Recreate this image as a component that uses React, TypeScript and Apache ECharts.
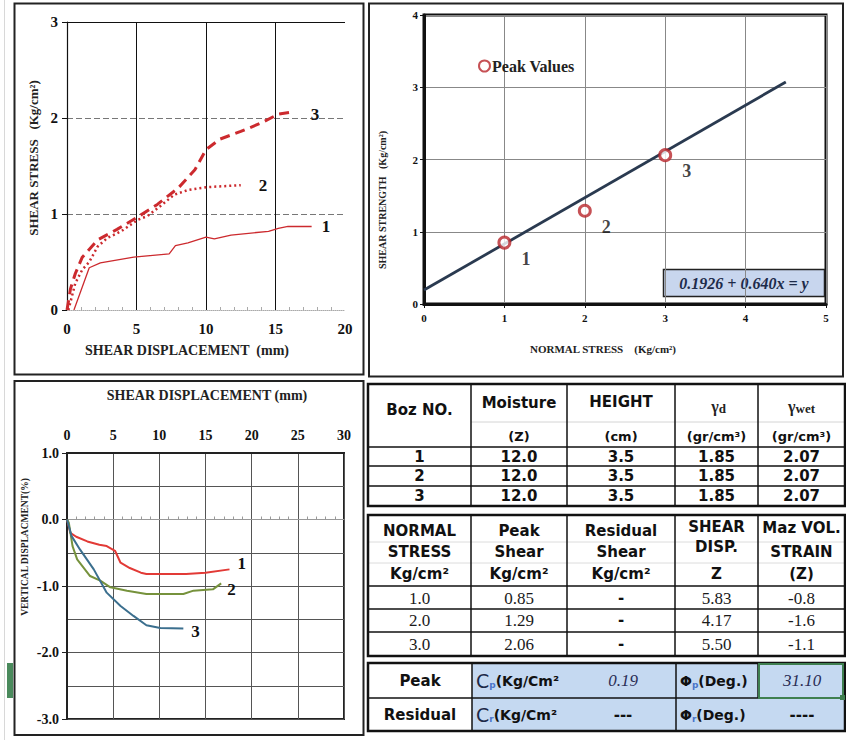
import React, { useEffect, useRef } from 'react';
import * as echarts from 'echarts';

// ---- Shear stress vs. shear displacement (mm, Kg/cm²) ----
const SD1_X = [0.5, 1.6, 2.4, 4.8, 7.35, 7.8, 8.7, 10.0, 10.6, 11.8, 14.5, 15.2, 15.9, 17.6];
const SD1_Y = [0.0, 0.44, 0.49, 0.55, 0.585, 0.67, 0.70, 0.76, 0.74, 0.78, 0.82, 0.85, 0.87, 0.87];
const SD2_X = [0.1, 0.6, 1.1, 1.6, 2.2, 2.9, 3.9, 5.1, 5.8, 6.7, 7.7, 8.7, 10.1, 12.5];
const SD2_Y = [0.0, 0.28, 0.42, 0.5, 0.66, 0.75, 0.82, 0.94, 0.98, 1.08, 1.2, 1.25, 1.28, 1.30];
const SD3_X = [0.0, 0.25, 0.6, 1.1, 2.2, 3.6, 5.1, 6.5, 8.0, 9.2, 10.0, 11.0, 12.5, 14.0, 15.2, 16.1];
const SD3_Y = [0.0, 0.22, 0.38, 0.55, 0.73, 0.84, 0.97, 1.1, 1.27, 1.46, 1.67, 1.78, 1.86, 1.95, 2.04, 2.06];

// ---- Vertical displacement (%) vs. shear displacement (mm) ----
const VD1_X = [0, 0.36, 1.0, 2.2, 3.5, 4.3, 5.2, 5.8, 6.8, 8.0, 8.6, 10.0, 12.9, 15.0, 17.6];
const VD1_Y = [0, -0.2, -0.26, -0.33, -0.38, -0.4, -0.47, -0.65, -0.73, -0.8, -0.82, -0.82, -0.82, -0.8, -0.75];
const VD2_X = [0, 0.2, 0.6, 1.1, 2.5, 3.6, 4.7, 6.5, 8.6, 10.0, 12.6, 13.7, 15.8, 16.7];
const VD2_Y = [0, -0.05, -0.4, -0.6, -0.85, -0.92, -1.02, -1.07, -1.12, -1.12, -1.12, -1.07, -1.05, -0.96];
const VD3_X = [0, 0.5, 1.4, 2.9, 4.3, 5.8, 7.2, 8.6, 10.1, 12.6];
const VD3_Y = [0, -0.25, -0.45, -0.75, -1.1, -1.3, -1.45, -1.59, -1.63, -1.64];

// ---- Specimen table ----
const BOX_NO = ['1', '2', '3'];
const MOISTURE = [12.0, 12.0, 12.0];
const HEIGHT = [3.5, 3.5, 3.5];
const GAMMA_D = [1.85, 1.85, 1.85];
const GAMMA_WET = [2.07, 2.07, 2.07];

// ---- Test results table ----
const NORMAL_STRESS = [1.0, 2.0, 3.0];
const PEAK_SHEAR = [0.85, 1.29, 2.06];
const RESIDUAL_SHEAR = ['-', '-', '-'];
const SHEAR_DISP_PCT = [5.83, 4.17, 5.5];
const MAX_VOL_STRAIN = [-0.8, -1.6, -1.1];

// ---- Strength parameters / failure envelope ----
const PEAK_C = 0.19;
const PEAK_PHI = 31.1;
const FIT_INTERCEPT = 0.1926;
const FIT_SLOPE = 0.64;
const FIT_X = [0, 4.5];

const SERIF = '"Liberation Serif", "Times New Roman", serif';
const SANS = '"DejaVu Sans", "Liberation Sans", sans-serif';
const INK = '#111';

const zip = (xs: number[], ys: number[]) => xs.map((x, i) => [x, ys[i]]);

const rect = (x: number, y: number, w: number, h: number, fill: string, stroke = 'none', lw = 0) => ({
  type: 'rect', silent: true, shape: { x, y, width: w, height: h },
  style: { fill, stroke, lineWidth: lw },
});
const line = (x1: number, y1: number, x2: number, y2: number, lw = 1.5, stroke = INK) => ({
  type: 'line', silent: true, shape: { x1, y1, x2, y2 }, style: { stroke, lineWidth: lw },
});
const text = (t: string, x: number, y: number, font: string, fill = INK, align = 'center', rotation = 0) => ({
  type: 'text', silent: true, x, y, rotation,
  style: { text: t, font, fill, align, verticalAlign: 'middle' },
});
const rich = (t: string, x: number, y: number, styles: any, align = 'center') => ({
  type: 'text', silent: true, x, y,
  style: { text: t, rich: styles, align, verticalAlign: 'middle', fill: INK },
});

function tableGraphics() {
  const els: any[] = [];
  const COLS = [368, 471, 567, 675, 758, 845];
  const mid = (i: number) => (COLS[i] + COLS[i + 1]) / 2;
  const hdr = `bold 15px ${SANS}`;
  const unit = `bold 13px ${SANS}`;
  const num = `17px ${SERIF}`;

  // Specimen table
  const t1Top = 384, t1Bot = 506;
  const t1Rows = [447, 466, 486];
  els.push(line(COLS[1], 422, COLS[5], 422, 1, '#d4d4d4'));
  t1Rows.forEach((y) => els.push(line(COLS[0], y, COLS[5], y, 1.5)));
  for (let i = 1; i < 5; i++) els.push(line(COLS[i], t1Top, COLS[i], t1Bot, 1.5));
  els.push(rect(COLS[0], t1Top, COLS[5] - COLS[0], t1Bot - t1Top, 'none', INK, 2.5));
  els.push(text('Boz NO.', mid(0), 410, hdr));
  els.push(text('Moisture', mid(1), 403, hdr));
  els.push(text('(Z)', mid(1), 436, unit));
  els.push(text('HEIGHT', mid(2), 402, hdr));
  els.push(text('(cm)', mid(2), 436, unit));
  const gStyles = {
    g: { font: `bold 16px ${SERIF}`, fill: '#222' },
    s: { font: `bold 13px ${SERIF}`, fill: '#222', padding: [4, 0, 0, 0] },
  };
  els.push(rich('{g|γ}{s|d}', mid(3) + 2, 406, gStyles));
  els.push(rich('{g|γ}{s|wet}', mid(4), 406, gStyles));
  els.push(text('(gr/cm³)', mid(3), 436, unit));
  els.push(text('(gr/cm³)', mid(4), 436, unit));
  const t1Centers = [457, 476, 496];
  BOX_NO.forEach((b, r) => {
    const y = t1Centers[r];
    els.push(text(b, mid(0), y, hdr));
    els.push(text(MOISTURE[r].toFixed(1), mid(1), y, hdr));
    els.push(text(HEIGHT[r].toFixed(1), mid(2), y, hdr));
    els.push(text(GAMMA_D[r].toFixed(2), mid(3), y, hdr));
    els.push(text(GAMMA_WET[r].toFixed(2), mid(4), y, hdr));
  });

  // Test results table
  const t2Top = 515, t2Bot = 656;
  els.push(line(COLS[0], 542, COLS[5], 542, 1, '#dcdcdc'));
  els.push(line(COLS[0], 563, COLS[5], 563, 1, '#dcdcdc'));
  [586, 609, 632].forEach((y) => els.push(line(COLS[0], y, COLS[5], y, 1.5)));
  for (let i = 1; i < 5; i++) els.push(line(COLS[i], t2Top, COLS[i], t2Bot, 1.5));
  els.push(rect(COLS[0], t2Top, COLS[5] - COLS[0], t2Bot - t2Top, 'none', INK, 2.5));
  const heads = [
    ['NORMAL', 'STRESS', 'Kg/cm²'],
    ['Peak', 'Shear', 'Kg/cm²'],
    ['Residual', 'Shear', 'Kg/cm²'],
    ['SHEAR', 'DISP.', 'Z'],
    ['Maz VOL.', 'STRAIN', '(Z)'],
  ];
  const headY = [[531, 552, 574], [531, 552, 574], [531, 552, 574], [527, 547, 574], [528, 552, 574]];
  heads.forEach((h, c) => h.forEach((s, k) => els.push(text(s, mid(c), headY[c][k], hdr))));
  const t2Centers = [598, 620, 644];
  NORMAL_STRESS.forEach((ns, r) => {
    const y = t2Centers[r];
    els.push(text(ns.toFixed(1), mid(0), y, num, '#1a1a1a'));
    els.push(text(PEAK_SHEAR[r].toFixed(2), mid(1), y, num, '#1a1a1a'));
    els.push(text(RESIDUAL_SHEAR[r], mid(2), y, hdr));
    els.push(text(SHEAR_DISP_PCT[r].toFixed(2), mid(3), y, num, '#1a1a1a'));
    els.push(text(MAX_VOL_STRAIN[r].toFixed(1), mid(4), y, num, '#1a1a1a'));
  });

  // Strength parameters
  const t3Top = 663, t3Mid = 698, t3Bot = 731;
  els.push(rect(472, t3Top, COLS[5] - 472, t3Bot - t3Top, '#c5d9f1'));
  els.push(line(COLS[0], t3Mid, COLS[5], t3Mid, 1.5));
  els.push(line(472, t3Top, 472, t3Bot, 1.5));
  els.push(line(676, t3Top, 676, t3Bot, 1.5));
  els.push(line(758, t3Top, 758, t3Mid, 1.5));
  els.push(rect(COLS[0], t3Top, COLS[5] - COLS[0], t3Bot - t3Top, 'none', INK, 2.5));
  els.push(rect(759, t3Top + 1, 84, t3Mid - t3Top - 1, 'none', '#3f7f50', 2));
  els.push(rect(840, t3Mid - 3, 5, 5, '#3f7f50'));
  els.push(text('Peak', 420, 681, hdr));
  els.push(text('Residual', 420, 715, hdr));
  const pStyles = {
    c: { font: `19px ${SANS}`, fill: '#1e2a48' },
    s: { font: `bold 9px ${SANS}`, fill: '#4a74c9', padding: [7, 0, 0, 0] },
    t: { font: `bold 14px ${SANS}`, fill: INK },
  };
  els.push(rich('{c|C}{s|p}{t|(Kg/Cm²}', 476, 681, pStyles, 'left'));
  els.push(rich('{c|C}{s|r}{t|(Kg/Cm²}', 476, 715, pStyles, 'left'));
  els.push(rich('{t|Φ}{s|p}{t|(Deg.)}', 680, 681, pStyles, 'left'));
  els.push(rich('{t|Φ}{s|r}{t|(Deg.)}', 680, 715, pStyles, 'left'));
  els.push(text(PEAK_C.toFixed(2), 623, 680, `italic 17px ${SERIF}`, '#2a2d55'));
  els.push(text(PEAK_PHI.toFixed(2), 802, 680, `italic 17px ${SERIF}`, '#2a2d55'));
  els.push(text('---', 623, 715, hdr));
  els.push(text('----', 802, 715, hdr));
  return els;
}

function frameGraphics() {
  const els: any[] = [];
  // worksheet edge and selected row marker
  els.push(line(4.5, 0, 4.5, 740, 1, '#d8d8d8'));
  els.push(rect(7, 663, 6, 35, '#4a8a5c'));
  // panel borders
  els.push(rect(14.5, 3.5, 349, 371, 'none', '#222', 2));
  els.push(rect(369, 3.5, 474, 373, 'none', '#222', 2));
  els.push(rect(14.5, 381, 349, 354, 'none', '#222', 2));
  // axis titles
  els.push(text('SHEAR STRESS   (Kg/cm²)', 33, 158, `bold 13px ${SERIF}`, '#222', 'center', Math.PI / 2));
  els.push(text('SHEAR DISPLACEMENT  (mm)', 187, 350, `bold 14px ${SERIF}`, '#222'));
  els.push(text('SHEAR STRENGTH   (Kg/cm²)', 382, 200, `bold 10px ${SERIF}`, '#222', 'center', Math.PI / 2));
  els.push(text('NORMAL STRESS    (Kg/cm²)', 603, 349, `bold 11px ${SERIF}`, '#222'));
  els.push(text('SHEAR DISPLACEMENT (mm)', 207, 395, `bold 14px ${SERIF}`, '#222'));
  els.push(text('VERTICAL DISPLACMENT(%)', 25, 547, `bold 9.5px ${SERIF}`, '#222', 'center', Math.PI / 2));
  // fitted envelope equation
  els.push(rect(663.5, 269.5, 161, 27, '#c8d6ee', '#222', 1.5));
  els.push(text(`${FIT_INTERCEPT} + ${FIT_SLOPE.toFixed(3)}x = y`, 744, 283, `italic bold 16px ${SERIF}`, '#1d2b4a'));
  return els;
}

const tickFont = (size: number) => ({ fontFamily: SERIF, fontWeight: 'bold' as const, fontSize: size, color: '#111' });

const endLabel = (t: string, offset: number[]) => ({
  show: true, formatter: t, offset, color: INK, fontFamily: SERIF, fontWeight: 'bold', fontSize: 17,
});

export default function App() {
  const ref = useRef<HTMLDivElement>(null);
  useEffect(() => {
    if (!ref.current) return;
    const chart = echarts.init(ref.current, null, { renderer: 'svg' });
    const fitData = FIT_X.map((x) => [x, FIT_INTERCEPT + FIT_SLOPE * x]);
    chart.setOption({
      animation: false,
      backgroundColor: '#fff',
      legend: {
        data: ['Peak Values'], left: 473, top: 53, itemWidth: 11, itemHeight: 11, itemGap: 4,
        textStyle: { fontFamily: SERIF, fontWeight: 'bold', fontSize: 16, color: '#222', padding: [0, 0, 0, -3] },
      },
      grid: [
        { left: 67, top: 22, width: 278, height: 288 },
        { left: 424, top: 15, width: 402, height: 289, show: true, borderColor: '#111', borderWidth: 3 },
        { left: 67, top: 453, width: 277, height: 266, show: true, borderColor: '#222', borderWidth: 2 },
      ],
      xAxis: [
        {
          gridIndex: 0, type: 'value', min: 0, max: 20, interval: 5,
          axisLine: { onZero: false, lineStyle: { color: '#aaa', type: 'dotted' } },
          axisTick: { show: false, inside: true },
          minorTick: { show: true, splitNumber: 5, length: 3, lineStyle: { color: '#aaa' } },
          axisLabel: { ...tickFont(15), margin: 11 },
          splitLine: { show: true, showMinLine: false, showMaxLine: false, lineStyle: { color: '#111', width: 1 } },
        },
        {
          gridIndex: 1, type: 'value', min: 0, max: 5, interval: 1,
          axisLine: { lineStyle: { color: '#111', width: 3 } },
          axisTick: { length: 4, lineStyle: { color: '#111' } },
          axisLabel: { ...tickFont(11), margin: 8 },
          splitLine: { show: true, lineStyle: { color: '#888', width: 1 } },
        },
        {
          gridIndex: 2, type: 'value', position: 'top', min: 0, max: 30, interval: 5,
          axisLine: { onZero: false, lineStyle: { color: '#222', width: 2 } },
          axisTick: { show: false },
          axisLabel: { ...tickFont(14), margin: 11 },
          splitLine: { show: true, lineStyle: { color: '#555', width: 1 } },
        },
        {
          gridIndex: 2, type: 'value', position: 'bottom', min: 0, max: 30, interval: 5,
          axisLine: { onZero: true, lineStyle: { color: '#999', width: 1 } },
          axisTick: { show: false, inside: true },
          minorTick: { show: true, splitNumber: 5, length: 3, lineStyle: { color: '#999' } },
          axisLabel: { show: false },
          splitLine: { show: false },
        },
      ],
      yAxis: [
        {
          gridIndex: 0, type: 'value', min: 0, max: 3, interval: 1,
          axisLine: { show: true, lineStyle: { color: '#111', width: 1.2 } },
          axisTick: { show: true, length: 5, lineStyle: { color: '#111' } },
          axisLabel: { ...tickFont(15), margin: 9 },
          splitLine: { show: true, showMinLine: false, showMaxLine: false, lineStyle: { color: '#777', type: [6, 3] } },
        },
        {
          gridIndex: 1, type: 'value', min: 0, max: 4, interval: 1,
          axisLine: { show: true, lineStyle: { color: '#111', width: 3 } },
          axisTick: { show: true, length: 4, lineStyle: { color: '#111' } },
          axisLabel: { ...tickFont(11), margin: 6 },
          splitLine: { show: true, lineStyle: { color: '#888', width: 1 } },
        },
        {
          gridIndex: 2, type: 'value', min: -3, max: 1, interval: 1,
          axisLine: { show: true, lineStyle: { color: '#222', width: 2 } },
          axisTick: { show: true, length: 5, lineStyle: { color: '#222' } },
          minorTick: { show: false, splitNumber: 2 },
          axisLabel: { ...tickFont(14), margin: 8, formatter: (v: number) => v.toFixed(1) },
          splitLine: { show: true, lineStyle: { color: '#555', width: 1 } },
          minorSplitLine: { show: true, lineStyle: { color: '#555', width: 1 } },
        },
      ],
      series: [
        {
          name: 'Box 1', type: 'line', xAxisIndex: 0, yAxisIndex: 0, data: zip(SD1_X, SD1_Y),
          symbol: 'none', lineStyle: { color: '#cc2a2e', width: 1.3 },
          endLabel: endLabel('1', [2, 0]),
          markLine: {
            silent: true, symbol: 'none', label: { show: false },
            lineStyle: { color: '#111', type: 'solid', width: 1.2 }, data: [{ yAxis: 3 }],
          },
        },
        {
          name: 'Box 2', type: 'line', xAxisIndex: 0, yAxisIndex: 0, data: zip(SD2_X, SD2_Y),
          symbol: 'none', lineStyle: { color: '#cc2a2e', width: 2.5, type: [2, 3] },
          endLabel: endLabel('2', [10, 0]),
        },
        {
          name: 'Box 3', type: 'line', xAxisIndex: 0, yAxisIndex: 0, data: zip(SD3_X, SD3_Y),
          symbol: 'none', lineStyle: { color: '#cc2a2e', width: 3, type: [10, 6] },
          endLabel: endLabel('3', [12, 2]),
        },
        {
          name: 'Envelope', type: 'line', xAxisIndex: 1, yAxisIndex: 1, data: fitData,
          symbol: 'none', silent: true, lineStyle: { color: '#2a3a50', width: 2.8 }, z: 2,
        },
        {
          name: 'Peak Values', type: 'scatter', xAxisIndex: 1, yAxisIndex: 1,
          data: zip(NORMAL_STRESS, PEAK_SHEAR), symbol: 'circle', symbolSize: 11, z: 3,
          itemStyle: { color: '#ffffff', borderColor: '#b8262a', borderWidth: 3 },
          label: {
            show: true, position: 'right', offset: [5, 16], formatter: (p: any) => BOX_NO[p.dataIndex],
            fontFamily: SERIF, fontWeight: 'bold', fontSize: 18, color: INK,
          },
        },
        {
          name: 'VD 1', type: 'line', xAxisIndex: 2, yAxisIndex: 2, data: zip(VD1_X, VD1_Y),
          symbol: 'none', lineStyle: { color: '#e23a36', width: 2 }, endLabel: endLabel('1', [0, -6]),
        },
        {
          name: 'VD 2', type: 'line', xAxisIndex: 2, yAxisIndex: 2, data: zip(VD2_X, VD2_Y),
          symbol: 'none', lineStyle: { color: '#76923c', width: 2 }, endLabel: endLabel('2', [-2, 6]),
        },
        {
          name: 'VD 3', type: 'line', xAxisIndex: 2, yAxisIndex: 2, data: zip(VD3_X, VD3_Y),
          symbol: 'none', lineStyle: { color: '#3b6f8e', width: 2 }, endLabel: endLabel('3', [0, 3]),
        },
      ],
      graphic: [...frameGraphics(), ...tableGraphics()],
    });
    return () => chart.dispose();
  }, []);
  return (
    <div
      ref={ref}
      style={{ position: 'absolute', left: 0, top: 0, width: 846, height: 740, background: '#fff' }}
    />
  );
}
